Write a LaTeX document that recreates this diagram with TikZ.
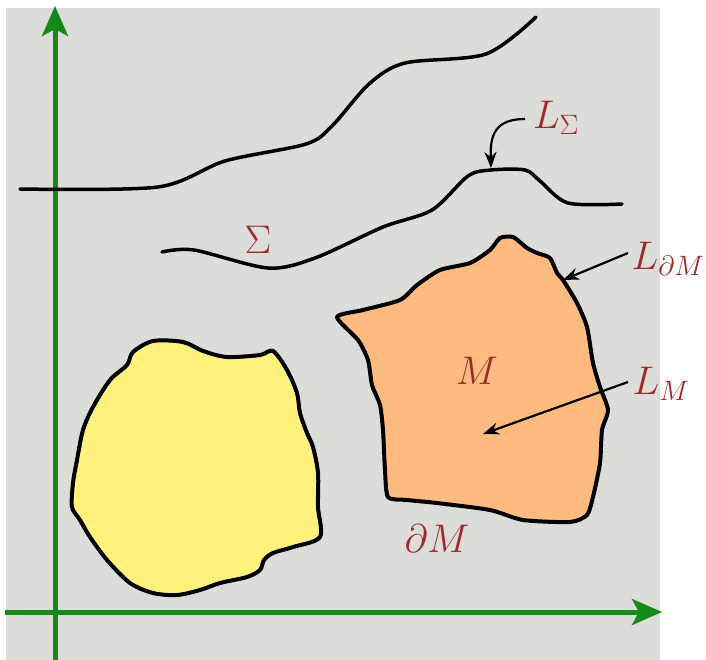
\RequirePackage{fix-cm}
\documentclass[tikz,border=0pt]{standalone}
\usetikzlibrary{arrows.meta}
\definecolor{bggray}{HTML}{DCDCD8}
\definecolor{axgreen}{HTML}{168A16}
\definecolor{fillY}{HTML}{FFF27C}
\definecolor{fillO}{HTML}{FDBB80}
\definecolor{txtred}{HTML}{9E2A2C}
\tikzset{
  axis/.style={draw=axgreen, line width=5pt, -{Stealth[length=30pt,width=26pt,inset=7pt]}},
  curve/.style={draw=black, line width=3.5pt, line cap=round, line join=round},
  blob/.style={draw=black, line width=4pt, line join=round},
  pointer/.style={draw=black, line width=2.2pt, -{Stealth[length=16pt,width=12pt]}},
  lab/.style={text=txtred, font=\fontsize{40}{44}\selectfont, inner sep=0pt},
}
\begin{document}
\begin{tikzpicture}[x=1pt,y=-1pt]
\useasboundingbox (0,0) rectangle (706,659);
\fill[white] (0,0) rectangle (706,659);
% faded gray background
\foreach \d/\o in {12/0.2,9/0.35,6/0.55,3/0.75,0/1}{
  \fill[bggray, opacity=\o] (6+\d,8+\d) rectangle (660-\d,670);
}
% axes
\coordinate (xs) at (5,612);
\coordinate (xe) at (662,612);
\coordinate (ys) at (55,665);
\coordinate (ye) at (55,6);
\draw[axis] (xs) -- (xe);
\draw[axis] (ys) -- (ye);
% top curve
\draw[curve] plot[smooth, tension=0.5] coordinates {(20,189) (158,187) (225,161) (306,144) (332,126) (369,84) (405,63) (486,54) (536,17)};
% Sigma curve
\draw[curve] plot[smooth, tension=0.5] coordinates {(162,252) (194,250) (268,268) (315,258) (383,227) (432,210) (468,176) (491,170) (525,170) (540,181) (568,203) (622,204)};
% yellow blob
\draw[blob, fill=fillY] plot[smooth cycle, tension=0.5] coordinates {
(273,351) (260,355) (227,357) (203,351) (183,342) (153,341) (133,352) (127,365) (110,380) (93,407) (83,430) (77,460) (73,483) (72,507) (80,520) (90,537) (107,560) (130,583) (153,593) (177,595) (200,590) (220,583) (247,577) (260,570) (264,560) (273,553) (293,547) (320,537) (318,507) (318,473) (313,447) (307,433) (300,413) (297,393) (287,370)};
% orange blob
\draw[blob, fill=fillO] plot[smooth cycle, tension=0.4] coordinates {
(337,317) (363,310) (400,300) (417,285) (440,270) (470,263) (490,250) (500,238) (513,237) (527,248) (537,253) (550,258) (557,273) (563,280) (577,303) (587,327) (593,363) (600,387) (608,410) (602,430) (600,463) (593,497) (587,515) (570,522) (523,520) (490,510) (437,503) (407,500) (388,497) (385,470) (383,430) (380,405) (372,385) (368,360) (358,340)};
% labels
\node[lab] (LS) at (556,118) {$L_{\Sigma}$};
\node[lab] (LdM) at (668,259) {$L_{\partial M}$};
\node[lab] (LM) at (661,384) {$L_{M}$};
\node[lab] (M) at (477,371) {$M$};
\node[lab] (dM) at (437,539) {$\partial M$};
\node[lab] (S) at (258,240) {$\Sigma$};
% pointers
\coordinate (a1) at (525,119);
\coordinate (t1) at (491,168);
\draw[pointer] (a1) .. controls (495,119) and (490,135) .. (t1);
\coordinate (a2) at (628,253);
\coordinate (t2) at (563,280);
\draw[pointer] (a2) -- (t2);
\coordinate (a3) at (628,382);
\coordinate (t3) at (483,434);
\draw[pointer] (a3) -- (t3);
\end{tikzpicture}
\end{document}
